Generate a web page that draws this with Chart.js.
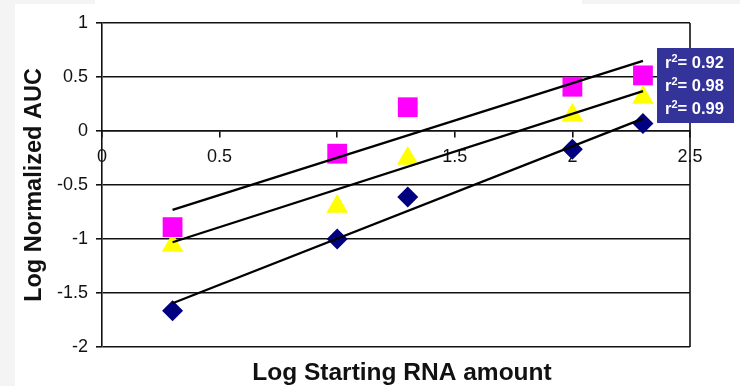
<!DOCTYPE html>
<html>
<head>
<meta charset="utf-8">
<script src="https://cdn.jsdelivr.net/npm/chart.js@4/dist/chart.umd.min.js"></script>
<style>
  html, body { margin: 0; padding: 0; background: #f4f4f4; }
  body { width: 740px; height: 386px; position: relative; overflow: hidden; }
  #topStrip { position: absolute; left: 95px; top: 0; width: 487px; height: 4px; background: #fff; }
  #chartBox { position: absolute; left: 15px; top: 4px; width: 725px; height: 382px; background: #fff; }
</style>
</head>
<body>
<div id="topStrip"></div>
<div id="chartBox"><canvas id="rnaChart" width="725" height="382"></canvas></div>
<script>
// log starting RNA amount
const xValues = [0.3, 1, 1.3, 2, 2.3];

// log normalized AUC per series
const pinkValues = [-0.89, -0.21, 0.22, 0.41, 0.515];
const yellowValues = [-1.06, -0.70, -0.255, 0.145, 0.31];
const navyValues = [-1.665, -1.0, -0.61, -0.17, 0.07];

// trend line ends
const trendX = [0.3, 2.3];
const pinkTrend = [-0.73, 0.65];
const yellowTrend = [-1.03, 0.37];
const navyTrend = [-1.595, 0.115];

const rSquared = ['0.92', '0.98', '0.99'];

const xTickLabels = ['0', '0.5', '1', '1.5', '2', '2.5'];
const yTickLabels = ['-2', '-1.5', '-1', '-0.5', '0', '0.5', '1'];

const toPoints = (xs, ys) => xs.map((x, i) => ({ x: x, y: ys[i] }));

function trendSet(values) {
    return {
        type: 'line',
        data: toPoints(trendX, values),
        borderColor: '#000',
        borderWidth: 2.3,
        pointRadius: 0,
        fill: false,
        order: 0
    };
}

function markerSet(values, color, style, radius) {
    return {
        type: 'scatter',
        data: toPoints(xValues, values),
        backgroundColor: color,
        borderColor: color,
        borderWidth: 0,
        pointStyle: style,
        pointRadius: radius,
        pointHoverRadius: radius,
        order: 1
    };
}

// right edge of the frame and the r² box
const extras = {
    id: 'extras',
    beforeDatasetsDraw(chart) {
        const { ctx, chartArea } = chart;
        ctx.save();
        ctx.strokeStyle = '#111';
        ctx.lineWidth = 1.6;
        ctx.beginPath();
        ctx.moveTo(chartArea.right, chartArea.top);
        ctx.lineTo(chartArea.right, chartArea.bottom);
        ctx.stroke();
        ctx.restore();
    },
    afterDraw(chart) {
        const { ctx, chartArea } = chart;
        ctx.save();
        const bx = chartArea.right - 33;
        const by = chartArea.top + 25;
        ctx.fillStyle = '#333399';
        ctx.fillRect(bx, by, 77, 75);
        ctx.fillStyle = '#fff';
        ctx.textBaseline = 'alphabetic';
        rSquared.forEach((r, i) => {
            const base = by + 20 + i * 23;
            let tx = bx + 8;
            ctx.font = 'bold 16.5px "Liberation Sans", Arial, sans-serif';
            ctx.fillText('r', tx, base);
            tx += ctx.measureText('r').width;
            ctx.font = 'bold 11px "Liberation Sans", Arial, sans-serif';
            ctx.fillText('2', tx, base - 6);
            tx += ctx.measureText('2').width;
            ctx.font = 'bold 16.5px "Liberation Sans", Arial, sans-serif';
            ctx.fillText('= ' + r, tx, base);
        });

        // x axis title
        ctx.fillStyle = '#111';
        ctx.font = 'bold 24.5px "Liberation Sans", Arial, sans-serif';
        ctx.textAlign = 'center';
        ctx.textBaseline = 'middle';
        ctx.fillText('Log Starting RNA amount', 387, 369);
        ctx.restore();
    }
};

const tickFont = { family: '"Liberation Sans", Arial, sans-serif', size: 18 };

new Chart(document.getElementById('rnaChart'), {
    type: 'scatter',
    data: {
        datasets: [
            trendSet(pinkTrend),
            trendSet(yellowTrend),
            trendSet(navyTrend),
            markerSet(pinkValues, '#ff00ff', 'rect', 14),
            markerSet(yellowValues, '#ffff00', 'triangle', 12.5),
            markerSet(navyValues, '#000080', 'rectRot', 10.5)
        ]
    },
    options: {
        responsive: false,
        animation: false,
        events: [],
        layout: { padding: { top: 19, right: 50, bottom: 39, left: 0 } },
        plugins: {
            legend: { display: false },
            tooltip: { enabled: false }
        },
        scales: {
            x: {
                type: 'linear',
                position: { y: 0 },
                min: 0,
                max: 2.5,
                grid: {
                    drawOnChartArea: false,
                    drawTicks: true,
                    tickLength: 6,
                    color: '#111',
                    lineWidth: 1.6
                },
                border: { display: true, color: '#111', width: 1.6 },
                ticks: {
                    stepSize: 0.5,
                    padding: 9,
                    color: '#111',
                    font: tickFont,
                    maxRotation: 0,
                    callback: (v, i) => xTickLabels[i]
                },
                afterFit: (scale) => { scale.height = 0; }
            },
            y: {
                type: 'linear',
                min: -2,
                max: 1,
                grid: {
                    color: '#111',
                    lineWidth: 1.6,
                    drawTicks: true,
                    tickLength: 6
                },
                border: { display: true, color: '#111', width: 1.6 },
                ticks: {
                    stepSize: 0.5,
                    padding: 8,
                    color: '#111',
                    font: tickFont,
                    callback: (v, i) => yTickLabels[i]
                },
                title: {
                    display: true,
                    text: 'Log Normalized AUC',
                    color: '#111',
                    font: { family: '"Liberation Sans", Arial, sans-serif', size: 23.5, weight: 'bold' },
                    padding: { top: 5, bottom: 0 }
                },
                afterFit: (scale) => { scale.width = 87; }
            }
        }
    },
    plugins: [extras]
});
</script>
</body>
</html>
